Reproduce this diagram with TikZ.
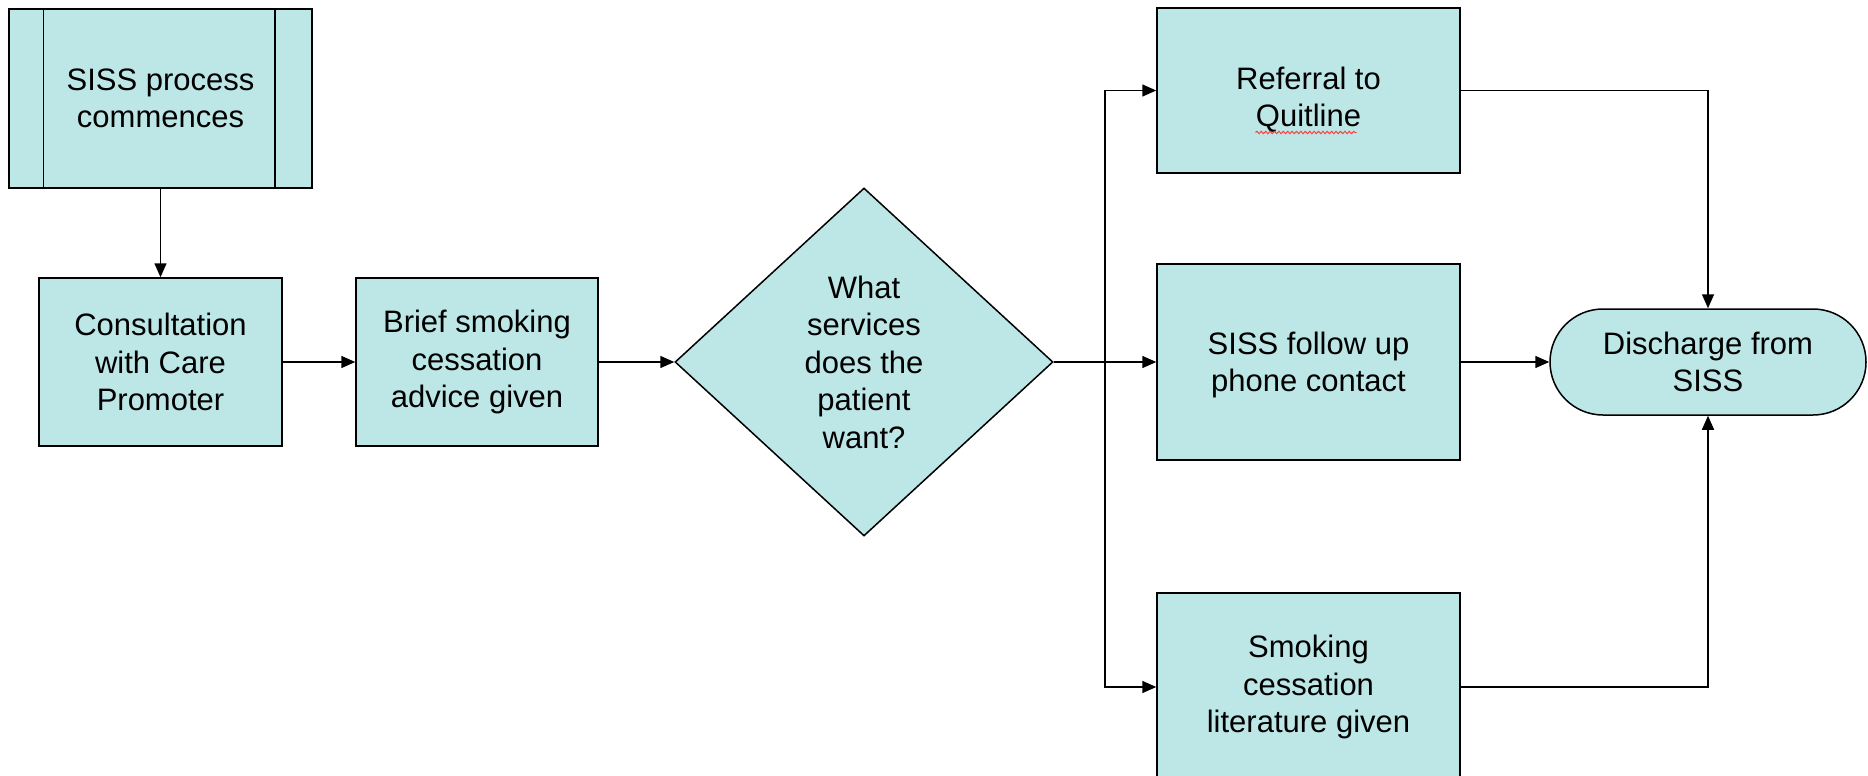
\documentclass[tikz,border=0pt]{standalone}
\usepackage{fontspec}
\setmainfont{Liberation Sans}
\usepackage{xcolor}
\usetikzlibrary{
    arrows.meta,
    shapes,
    shapes.geometric,
    shapes.misc,
    calc,
    decorations.pathmorphing,
    positioning
}
\definecolor{boxfill}{HTML}{BDE6E6}
\tikzset{
    every node/.style={
        font=\fontsize{15.5pt}{18.75pt}\selectfont,
        align=center,
    },
    procbox/.style={
        rectangle,
        draw,
        line width=0.75pt,
        fill=boxfill,
        inner sep=0pt,
    },
    decbox/.style={
        diamond,
        draw,
        line width=0.75pt,
        fill=boxfill,
        inner sep=0pt,
    },
    termbox/.style={
        rounded rectangle,
        draw,
        line width=0.75pt,
        fill=boxfill,
        inner sep=0pt,
    },
    flow/.style={
        draw,
        line width=0.75pt,
        -{Triangle[length=7pt,width=6pt]},
    },
}

\begin{document}
\begin{tikzpicture}[x=0.5pt,y=-0.5pt]
    \clip (0,0) rectangle (1868,776);
    % predefined process at the start
    \node[
        procbox,
        minimum width=151.5pt,
        minimum height=89.5pt,
    ] (start) at (160.5,98.5) {SISS process\\commences};
    \draw[line width=0.75pt] ([xshift=17.5pt]start.north west) -- ([xshift=17.5pt]start.south west);
    \draw[line width=0.75pt] ([xshift=-19pt]start.north east) -- ([xshift=-19pt]start.south east);
    \node[
        procbox,
        minimum width=121.5pt,
        minimum height=84pt,
    ] (consult) at (160.5,362) {Consultation\\with Care\\Promoter};
    \node[
        procbox,
        minimum width=121pt,
        minimum height=84pt,
    ] (brief) at (477,362) {Brief smoking\\cessation\\advice given};
    \node[
        decbox,
        minimum width=189pt,
        minimum height=174pt,
    ] (want) at (864,362) {What\\services\\does the\\patient\\want?};
    % the three services
    \node[
        procbox,
        minimum width=151.5pt,
        minimum height=82.5pt,
        label={[yshift=-4.5pt]center:Referral to\\Quitline},
    ] (quit) at (1308.5,90.5) {};
    \node[
        procbox,
        minimum width=151.5pt,
        minimum height=98pt,
        label={[yshift=-1.5pt]center:SISS follow up\\phone contact},
    ] (phone) at (1308.5,362) {};
    \node[
        procbox,
        minimum width=151.5pt,
        minimum height=94pt,
    ] (lit) at (1308.5,687) {Smoking\\cessation\\literature given};
    \node[
        termbox,
        minimum width=158pt,
        minimum height=53pt,
    ] (discharge) at (1708,362) {Discharge from\\SISS};
    % spell check underline
    \draw[red!75, line width=0.5pt, decorate,
        decoration={snake, segment length=2.2pt, amplitude=0.6pt}]
        ($(quit.center)+(-53,42)$) -- ($(quit.center)+(48,42)$);
    \coordinate (split) at (1105,362);
    \draw[flow] (start) -- (consult);
    \draw[flow] (consult) -- (brief);
    \draw[flow] (brief) -- (want);
    \draw[line width=0.75pt] (want.east) -- (split);
    \draw[flow] (split) |- (quit.west);
    \draw[flow] (split) -- (phone.west);
    \draw[flow] (split) |- (lit.west);
    \draw[flow] (quit.east) -| (discharge.north);
    \draw[flow] (phone) -- (discharge);
    \draw[flow] (lit.east) -| (discharge.south);
\end{tikzpicture}
\end{document}
